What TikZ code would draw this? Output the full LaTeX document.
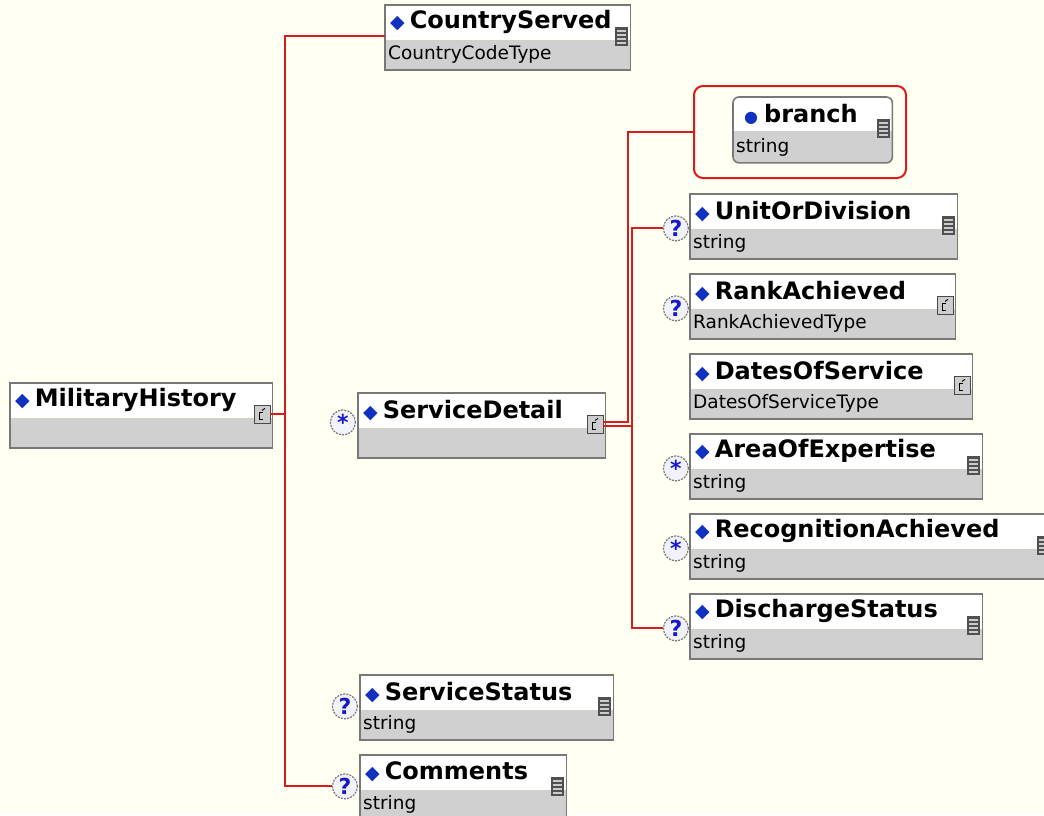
\documentclass[tikz,border=0pt]{standalone}
\usepackage{fontspec}
\setmainfont{DejaVu Sans}
\usetikzlibrary{positioning}

\definecolor{bgcream}{RGB}{255,255,242}
\definecolor{boxgray}{RGB}{120,120,120}
\definecolor{typegray}{RGB}{208,208,208}
\definecolor{linkred}{RGB}{214,28,28}
\definecolor{diablue}{RGB}{16,48,192}
\definecolor{icondark}{RGB}{80,80,80}
\definecolor{iconlight}{RGB}{205,205,205}
\definecolor{cardfill}{RGB}{242,242,250}
\definecolor{cardblue}{RGB}{24,24,200}

\newcommand{\dia}{\hspace*{2pt}{\fontsize{19}{19}\selectfont\color{diablue}◆}\hspace{5pt}}
\newcommand{\attrdot}{\hspace*{8pt}{\fontsize{16}{16}\selectfont\color{diablue}●}\hspace{6pt}}

\tikzset{
  head/.style={anchor=north west, fill=white, minimum height=34pt, inner xsep=3pt, inner ysep=0pt,
    text width=#1, align=left, font=\bfseries\fontsize{24}{26}\selectfont},
  tbox/.style={anchor=north west, fill=typegray, minimum height=30pt, inner xsep=3pt, inner ysep=0pt,
    text width=#1, align=left, font=\fontsize{18.5}{20}\selectfont},
  frame/.style={draw=boxgray, line width=1.6pt},
  link/.style={draw=linkred, line width=2pt},
  attrbox/.style={draw=linkred, line width=2pt, rounded corners=9pt, anchor=north west},
  card/.style={circle, draw=boxgray, dash pattern=on 2pt off 1.2pt, line width=1.2pt, fill=cardfill,
    minimum size=25pt, inner sep=0pt, text=cardblue, font=\bfseries\fontsize{22}{22}\selectfont},
  simple/.style={fill=icondark, minimum width=13pt, minimum height=19pt, inner sep=0pt,
    path picture={\foreach \k in {4,8,12,16}
      \draw[white!80!black, line width=1.3pt] ([xshift=2pt,yshift=-\k pt]path picture bounding box.north west) -- ++(9pt,0pt);}},
  complex/.style={draw=boxgray!60!black, fill=iconlight, line width=0.8pt, minimum width=16pt, minimum height=18pt,
    inner sep=0pt,
    path picture={\draw[black, line width=0.9pt] ([xshift=9pt,yshift=-7pt]path picture bounding box.north west)
      -- ++(-4pt,0pt) -- ++(0pt,-7pt) -- ++(4pt,0pt);
      \draw[black, line width=0.9pt] ([xshift=8pt,yshift=-5pt]path picture bounding box.north west) -- ++(3pt,2pt);}}
}

\begin{document}
\begin{tikzpicture}[x=1pt,y=-1pt]
  % background
  \fill[bgcream] (0,0) rectangle (1044,815);
  \useasboundingbox (0,0) rectangle (1044,815);

  % MilitaryHistory
  \node[head=256pt] (mh) at (10,383) {\dia MilitaryHistory};
  \node[tbox=256pt] (mh-t) at (mh.south west) {};
  \draw[frame] (mh.north west) rectangle (mh-t.south east);
  \node[complex, left=2pt of mh.south east, yshift=3pt] (mh-i) {};

  % CountryServed
  \node[head=239pt] (cs) at (385,5) {\dia CountryServed};
  \node[tbox=239pt] (cs-t) at (cs.south west) {CountryCodeType};
  \draw[frame] (cs.north west) rectangle (cs-t.south east);
  \node[simple, left=2pt of cs.south east, yshift=3pt] (cs-i) {};

  % ServiceDetail
  \node[head=241pt] (sd) at (358,393) {\dia ServiceDetail};
  \node[tbox=241pt] (sd-t) at (sd.south west) {};
  \draw[frame] (sd.north west) rectangle (sd-t.south east);
  \node[complex, left=2pt of sd.south east, yshift=3pt] (sd-i) {};
  \node[card, left=2pt of sd.south west, yshift=5pt] (sd-c) {*};

  % ServiceStatus
  \node[head=247pt] (ss) at (360,675) {\dia ServiceStatus};
  \node[tbox=247pt] (ss-t) at (ss.south west) {string};
  \draw[frame] (ss.north west) rectangle (ss-t.south east);
  \node[simple, left=2pt of ss.south east, yshift=3pt] (ss-i) {};
  \node[card, left=2pt of ss.south west, yshift=3pt] (ss-c) {?};

  % Comments
  \node[head=200pt] (cm) at (360,755) {\dia Comments};
  \node[tbox=200pt] (cm-t) at (cm.south west) {string};
  \draw[frame] (cm.north west) rectangle (cm-t.south east);
  \node[simple, left=2pt of cm.south east, yshift=3pt] (cm-i) {};
  \node[card, left=2pt of cm.south west, yshift=3pt] (cm-c) {?};

  % line from MilitaryHistory to its children
  \coordinate (spine) at (285,0);
  \draw[link] (mh-i.east) -- (mh-i.east -| spine);
  \draw[link] (cs.west |- cs-i) -| (spine |- cm-c.west) -- (cm-c.west);

  % attributes of ServiceDetail
  \node[attrbox, minimum width=212pt, minimum height=92pt] (br-a) at (693,85) {};
  \fill[typegray, rounded corners=6pt] (733,97) rectangle (892,162);
  \fill[white, rounded corners=6pt] (733,97) rectangle (892,137);
  \fill[typegray] (733,131) rectangle (892,138);
  \node[head=153pt, fill=none] (br) at (733,97) {\attrdot branch};
  \node[tbox=153pt, fill=none, minimum height=31pt] (br-t) at (br.south west) {string};
  \draw[frame, rounded corners=6pt] (br.north west) rectangle (br-t.south east);
  \node[simple, left=2pt of br.south east, yshift=3pt] (br-i) {};

  % UnitOrDivision
  \node[head=261pt] (ud) at (690,194) {\dia UnitOrDivision};
  \node[tbox=261pt] (ud-t) at (ud.south west) {string};
  \draw[frame] (ud.north west) rectangle (ud-t.south east);
  \node[simple, left=2pt of ud.south east, yshift=3pt] (ud-i) {};
  \node[card, left=1pt of ud.south west] (ud-c) {?};

  % RankAchieved
  \node[head=259pt] (ra) at (690,274) {\dia RankAchieved};
  \node[tbox=259pt] (ra-t) at (ra.south west) {RankAchievedType};
  \draw[frame] (ra.north west) rectangle (ra-t.south east);
  \node[complex, left=2pt of ra.south east, yshift=3pt] (ra-i) {};
  \node[card, left=1pt of ra.south west] (ra-c) {?};

  % DatesOfService
  \node[head=276pt] (ds) at (690,354) {\dia DatesOfService};
  \node[tbox=276pt] (ds-t) at (ds.south west) {DatesOfServiceType};
  \draw[frame] (ds.north west) rectangle (ds-t.south east);
  \node[complex, left=2pt of ds.south east, yshift=3pt] (ds-i) {};

  % AreaOfExpertise
  \node[head=286pt] (ae) at (690,434) {\dia AreaOfExpertise};
  \node[tbox=286pt] (ae-t) at (ae.south west) {string};
  \draw[frame] (ae.north west) rectangle (ae-t.south east);
  \node[simple, left=2pt of ae.south east, yshift=3pt] (ae-i) {};
  \node[card, left=1pt of ae.south west] (ae-c) {*};

  % RecognitionAchieved
  \node[head=356pt] (rc) at (690,514) {\dia RecognitionAchieved};
  \node[tbox=356pt] (rc-t) at (rc.south west) {string};
  \draw[frame] (rc.north west) rectangle (rc-t.south east);
  \node[simple, left=2pt of rc.south east, yshift=3pt] (rc-i) {};
  \node[card, left=1pt of rc.south west] (rc-c) {*};

  % DischargeStatus
  \node[head=286pt] (dc) at (690,594) {\dia DischargeStatus};
  \node[tbox=286pt] (dc-t) at (dc.south west) {string};
  \draw[frame] (dc.north west) rectangle (dc-t.south east);
  \node[simple, left=2pt of dc.south east, yshift=3pt] (dc-i) {};
  \node[card, left=1pt of dc.south west] (dc-c) {?};

  % lines from ServiceDetail
  \coordinate (fork1) at (628,0);
  \coordinate (fork2) at (632,0);
  \draw[link] ([yshift=2pt]sd-i.east) -| (fork1 |- br-a.west) -- (br-a.west);
  \draw[link] ([yshift=-2pt]sd-i.east) -| (fork2 |- ud-c.west) -- (ud-c.west);
  \draw[link] (fork2 |- ud-c.west) -- (fork2 |- dc-c.west) -- (dc-c.west);
\end{tikzpicture}
\end{document}
